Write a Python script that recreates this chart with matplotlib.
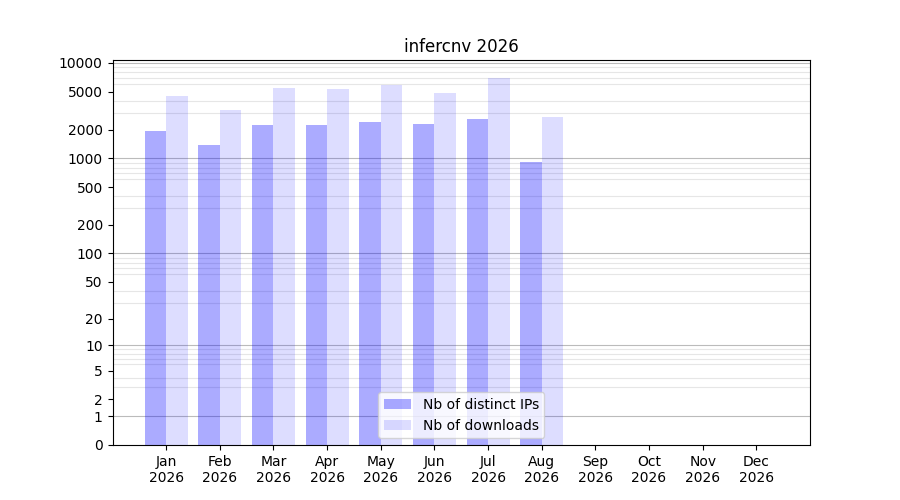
import numpy as np
import matplotlib
matplotlib.use('Agg')
from matplotlib import pyplot as plt

months = ['Jan', 'Feb', 'Mar', 'Apr', 'May', 'Jun', 'Jul', 'Aug', 'Sep', 'Oct', 'Nov', 'Dec']
year = '2026'
distinct_ips = [1940, 1385, 2240, 2240, 2410, 2300, 2590, 920]
downloads = [4500, 3220, 5470, 5340, 5890, 4850, 6970, 2720]
ytick_vals = [0, 1, 2, 5, 10, 20, 50, 100, 200, 500, 1000, 2000, 5000, 10000]


def fwd(x):
    return np.log10(np.clip(x, 0, None) + 1)


def inv(y):
    return 10 ** y - 1


fig, ax = plt.subplots(figsize=(9, 5), dpi=100)
x = np.arange(len(distinct_ips))
ax.bar(x - 0.2, distinct_ips, width=0.4, color='blue', alpha=0.33, label='Nb of distinct IPs', zorder=2)
ax.bar(x + 0.2, downloads, width=0.4, color='blue', alpha=0.135, label='Nb of downloads', zorder=2)

ax.set_yscale('function', functions=(fwd, inv))
ax.set_ylim(0, 10700)
ax.set_yticks(ytick_vals)
ax.set_yticklabels([str(v) for v in ytick_vals])
minor = [m * 10 ** k for k in range(0, 4) for m in range(2, 10)]
ax.set_yticks(minor, minor=True)
ax.tick_params(axis='y', which='minor', length=0)
ax.grid(axis='y', which='minor', color='#e6e6e6', lw=0.8, zorder=0)
for d in [1, 10, 100, 1000, 10000]:
    ax.axhline(d, color='#bbbbbb', lw=0.8, zorder=1)

ax.set_xticks(np.arange(len(months)))
ax.set_xticklabels([m + '\n' + year for m in months])
ax.set_xlim(-1, 12)
ax.set_title('infercnv 2026')
ax.legend(loc='lower center')

plt.savefig('out.png')
